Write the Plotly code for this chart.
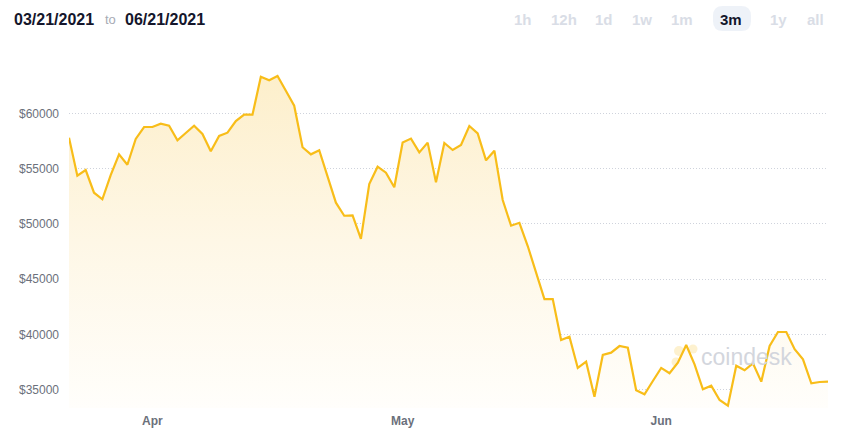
import pandas as pd
import plotly.graph_objects as go

# ---- data ----
start_date = "2021-03-22"
prices = [
    57800, 54360, 54870, 52820, 52230, 54420, 56290, 55350, 57680, 58760,
    58760, 59060, 58880, 57560, 58220, 58880, 58130, 56570, 57950, 58250,
    59300, 59880, 59880, 63310, 62980, 63370, 62040, 60690, 56930, 56290,
    56660, 54180, 51920, 50740, 50770, 48640, 53610, 55170, 54630, 53310,
    57350, 57710, 56470, 57350, 53760, 57320, 56680, 57130, 58850, 58190,
    55750, 56620, 52160, 49840, 50100, 48000, 45700, 43210, 43210, 39510,
    39810, 36980, 37550, 34380, 38150, 38360, 38960, 38810, 34960, 34600,
    35800, 36980, 36500, 37450, 39050, 37310, 35050, 35380, 34080, 33570,
    37180, 36770, 37400, 35740, 38960, 40230, 40230, 38670, 37760, 35590,
    35710, 35740,
]
dates = pd.date_range(start_date, periods=len(prices), freq="D")
x_tick_vals = ["2021-04-01", "2021-05-01", "2021-06-01"]
x_tick_text = ["Apr", "May", "Jun"]
y_tick_vals = [35000, 40000, 45000, 50000, 55000, 60000]
y_tick_text = ["$35000", "$40000", "$45000", "$50000", "$55000", "$60000"]
range_buttons = ["1h", "12h", "1d", "1w", "1m", "3m", "1y", "all"]
active_button = "3m"
date_from = "03/21/2021"
date_to = "06/21/2021"

# ---- layout geometry (pixels) ----
W, H = 852, 437
L, R, T, B = 69, 24, 60, 29
pw, ph = W - L - R, H - T - B
Y_MIN, Y_MAX = 33359, 64818

def px_x(p):
    return (p - L) / pw

def px_y(p):
    return (H - B - p) / ph

LINE = "#f8bd19"
FONT = "Liberation Sans, Arial"

fig = go.Figure()
fig.add_trace(go.Scatter(
    x=dates, y=prices, mode="lines",
    line=dict(color=LINE, width=2.2),
    fill="tozeroy",
    fillgradient=dict(type="vertical", start=Y_MIN, stop=63500,
                      colorscale=[[0, "#fffefb"], [0.5, "#fef7e6"], [1, "#fdefcb"]]),
    hoverinfo="skip",
))

shapes = []
# coindesk watermark icon (pale blobs)
for cx, cy, r in [(679, 351, 5), (693, 349, 4.5), (676, 362, 4.5), (687, 368, 4.5), (684, 357, 3.5)]:
    shapes.append(dict(type="circle", xref="paper", yref="paper", layer="below",
                       x0=px_x(cx - r), x1=px_x(cx + r), y0=px_y(cy + r), y1=px_y(cy - r),
                       fillcolor="#fdf1cf", line=dict(width=0)))

# pill behind active range button
x0, x1, y0, y1 = 713, 751, 6, 31
rr = 10
def P(a, b):
    return f"{px_x(a):.5f},{px_y(b):.5f}"
path = (f"M {P(x0 + rr, y0)} L {P(x1 - rr, y0)} Q {P(x1, y0)} {P(x1, y0 + rr)} "
        f"L {P(x1, y1 - rr)} Q {P(x1, y1)} {P(x1 - rr, y1)} L {P(x0 + rr, y1)} "
        f"Q {P(x0, y1)} {P(x0, y1 - rr)} L {P(x0, y0 + rr)} Q {P(x0, y0)} {P(x0 + rr, y0)} Z")
shapes.append(dict(type="path", xref="paper", yref="paper", path=path,
                   fillcolor="#eef2f8", line=dict(width=0)))

annotations = [
    dict(text=f"<b>{date_from}</b>", x=px_x(12), y=px_y(19), xref="paper", yref="paper",
         xanchor="left", yanchor="middle", showarrow=False,
         font=dict(family=FONT, size=16, color="#14162b")),
    dict(text="to", x=px_x(103), y=px_y(20), xref="paper", yref="paper",
         xanchor="left", yanchor="middle", showarrow=False,
         font=dict(family=FONT, size=13, color="#a7abb5")),
    dict(text=f"<b>{date_to}</b>", x=px_x(123), y=px_y(19), xref="paper", yref="paper",
         xanchor="left", yanchor="middle", showarrow=False,
         font=dict(family=FONT, size=16, color="#14162b")),
    dict(text="coindesk", x=px_x(699), y=px_y(357), xref="paper", yref="paper",
         xanchor="left", yanchor="middle", showarrow=False,
         font=dict(family=FONT, size=23, color="#d3d6dd")),
]
btn_centers = [523, 564, 604, 642, 682, 731, 778, 815]
for label, cx in zip(range_buttons, btn_centers):
    active = label == active_button
    annotations.append(dict(
        text=f"<b>{label}</b>", x=px_x(cx), y=px_y(20), xref="paper", yref="paper",
        xanchor="center", yanchor="middle", showarrow=False,
        font=dict(family=FONT, size=15,
                  color="#14162b" if active else "#d9dde6")))

fig.update_layout(
    width=W, height=H,
    margin=dict(l=L, r=R, t=T, b=B, pad=0),
    paper_bgcolor="white", plot_bgcolor="white",
    showlegend=False,
    shapes=shapes, annotations=annotations,
    font=dict(family=FONT, color="#6b707b"),
    xaxis=dict(
        range=[dates[0], dates[-1]],
        tickvals=x_tick_vals, ticktext=[f"<b>{t}</b>" for t in x_tick_text],
        showgrid=False, zeroline=False, showline=False, ticks="",
        tickfont=dict(size=12, color="#6b707b"), ticklabelstandoff=4,
        automargin=False,
    ),
    yaxis=dict(
        range=[Y_MIN, Y_MAX], tickvals=y_tick_vals, ticktext=y_tick_text,
        showgrid=True, gridcolor="#cfd3dc", griddash="1px,2px", gridwidth=1,
        zeroline=False, showline=False, ticks="",
        tickfont=dict(size=12, color="#6b707b"), ticklabelstandoff=9,
        automargin=False,
    ),
)

fig.write_html("out.html", config={"displayModeBar": False},
               post_script="document.body.style.margin='0';document.body.style.padding='0';")
